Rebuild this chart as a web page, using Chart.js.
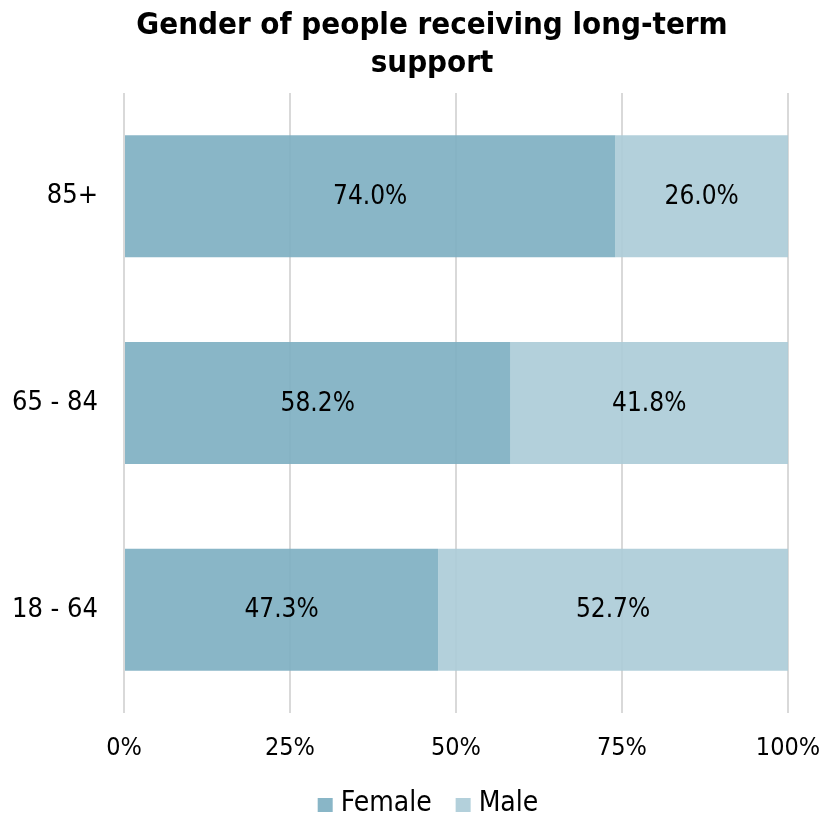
<!DOCTYPE html>
<html>
<head>
<meta charset="utf-8">
<script src="https://cdn.jsdelivr.net/npm/chart.js@4/dist/chart.umd.min.js"></script>
<style>
html,body{margin:0;padding:0;background:#fff;}
#wrap{width:822px;height:819px;}
</style>
</head>
<body>
<div id="wrap"><canvas id="c" width="822" height="819"></canvas></div>
<script>
const categories = ["85+", "65 - 84", "18 - 64"];
const femaleValues = [74.0, 58.2, 47.3];
const maleValues = [26.0, 41.8, 52.7];
const xTickValues = [0, 25, 50, 75, 100];
const titleLines = ["Gender of people receiving long-term", "support"];
const seriesNames = ["Female", "Male"];
const seriesColors = ["rgba(124,174,193,0.9)", "rgba(171,203,215,0.9)"];
const legendColors = ["#89b6c7", "#b3d0db"];

const FONT = "'DejaVu Sans Condensed', 'DejaVu Sans', sans-serif";

const valueLabels = {
  id: 'valueLabels',
  afterDatasetsDraw(chart) {
    const ctx = chart.ctx;
    ctx.save();
    ctx.font = "26px " + FONT;
    ctx.fillStyle = "#000";
    ctx.textAlign = "center";
    ctx.textBaseline = "middle";
    chart.data.datasets.forEach((ds, di) => {
      const meta = chart.getDatasetMeta(di);
      meta.data.forEach((bar, i) => {
        const p = bar.getProps(['x', 'y', 'base'], true);
        const cx = (p.x + p.base) / 2;
        ctx.fillText(ds.data[i].toFixed(1) + "%", cx, p.y + 1);
      });
    });
    ctx.restore();
  }
};

const customTitle = {
  id: 'customTitle',
  afterDraw(chart) {
    const ctx = chart.ctx;
    ctx.save();
    ctx.font = "bold 31px " + FONT;
    ctx.fillStyle = "#000";
    ctx.textAlign = "center";
    ctx.textBaseline = "middle";
    titleLines.forEach((t, i) => ctx.fillText(t, 432, 26 + i * 38));
    ctx.restore();
  }
};

const customLegend = {
  id: 'customLegend',
  afterDraw(chart) {
    const ctx = chart.ctx;
    ctx.save();
    ctx.font = "28px " + FONT;
    ctx.textBaseline = "middle";
    ctx.textAlign = "left";
    const box = 15, gap = 8, itemGap = 24;
    const widths = chart.data.datasets.map(ds => ctx.measureText(ds.label).width);
    let total = 0;
    widths.forEach((w, i) => { total += box + gap + w + (i ? itemGap : 0); });
    let x = 428 - total / 2;
    const cy = 804;
    chart.data.datasets.forEach((ds, i) => {
      ctx.fillStyle = legendColors[i];
      ctx.fillRect(x, cy - 6, box, 14);
      x += box + gap;
      ctx.fillStyle = "#000";
      ctx.fillText(ds.label, x, cy);
      x += widths[i] + itemGap;
    });
    ctx.restore();
  }
};

new Chart(document.getElementById('c'), {
  type: 'bar',
  data: {
    labels: categories,
    datasets: [
      { label: seriesNames[0], data: femaleValues, backgroundColor: seriesColors[0], borderWidth: 0 },
      { label: seriesNames[1], data: maleValues, backgroundColor: seriesColors[1], borderWidth: 0 }
    ]
  },
  options: {
    indexAxis: 'y',
    responsive: false,
    animation: false,
    devicePixelRatio: 1,
    layout: { padding: { left: 0, right: 34, top: 93, bottom: 36 } },
    datasets: { bar: { categoryPercentage: 0.59, barPercentage: 1.0 } },
    plugins: {
      title: { display: false },
      legend: { display: false },
      tooltip: { enabled: false }
    },
    scales: {
      x: {
        stacked: true,
        min: 0,
        max: 100,
        afterBuildTicks(scale) { scale.ticks = xTickValues.map(v => ({ value: v })); },
        afterFit(scale) { scale.paddingLeft = 0; scale.paddingRight = 0; },
        ticks: {
          color: '#000',
          font: { family: FONT, size: 25 },
          padding: 20,
          callback: v => v + '%'
        },
        grid: { color: '#d9d9d9', lineWidth: 2, drawTicks: false },
        border: { display: false }
      },
      y: {
        stacked: true,
        afterFit(scale) { scale.width = 124; },
        ticks: {
          color: '#000',
          font: { family: FONT, size: 27 },
          padding: 26
        },
        grid: { display: false, drawTicks: false },
        border: { display: false }
      }
    }
  },
  plugins: [valueLabels, customTitle, customLegend]
});
</script>
</body>
</html>
